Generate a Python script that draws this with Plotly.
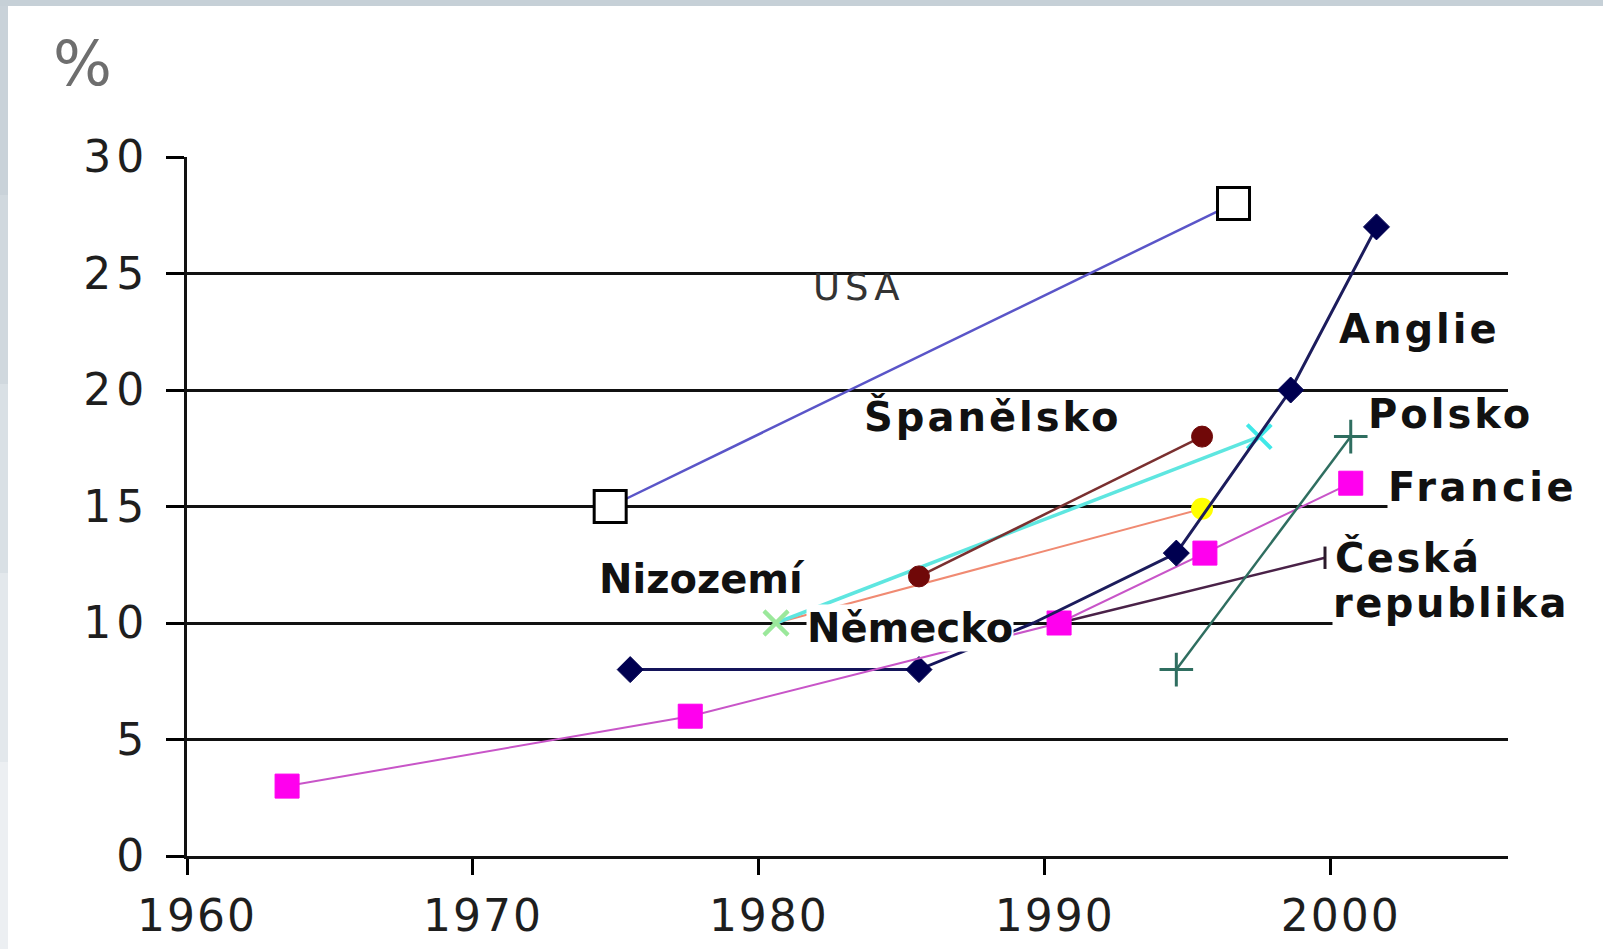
import plotly.graph_objects as go

# values (year, percent)
usa_years = [1974.8, 1996.6]
usa_vals = [15, 28]

nemecko_years = [1975.5, 1985.6, 1989.6]
nemecko_vals = [8, 8, 10]

anglie_years = [1989.6, 1994.6, 1998.6, 2001.6]
anglie_vals = [10, 13, 20, 27]

francie_years = [1963.5, 1977.6, 1990.5, 1995.6, 2000.7]
francie_vals = [3, 6, 10, 13, 16]

spanelsko_years = [1985.6, 1995.5]
spanelsko_vals = [12, 18]

nizozemi_years = [1980.6, 1997.5]
nizozemi_vals = [10, 18]

# unlabelled orange series (green start marker, yellow end marker)
orange_years = [1980.6, 1995.5]
orange_vals = [10, 14.9]

ceska_years = [1990.5, 1999.8]
ceska_vals = [10, 12.8]

polsko_years = [1994.6, 2000.7]
polsko_vals = [8, 18]

y_ticks = [0, 5, 10, 15, 20, 25, 30]
x_ticks = [1960, 1970, 1980, 1990, 2000]

FONT = "DejaVu Sans"
W, H = 1603, 949
M = dict(l=187, r=95, t=157, b=93)

fig = go.Figure()


def add_series(xs, ys, line_color, width, symbol, size, color, line=None):
    fig.add_trace(go.Scatter(
        x=xs, y=ys, mode="lines+markers",
        line=dict(color=line_color, width=width),
        marker=dict(symbol=symbol, size=size, color=color, opacity=1,
                    line=line or dict(color=color, width=1)),
        showlegend=False, hoverinfo="x+y",
    ))


add_series(usa_years, usa_vals, "#5a55c8", 2.5, "square", 32, "white",
           dict(color="black", width=3))
add_series(orange_years, orange_vals, "#f08a72", 2, ["x-thin", "circle"], [24, 22],
           ["#9be89b", "#ffff00"], dict(color=["#9be89b", "#ffff00"], width=[4, 0]))
add_series(nizozemi_years, nizozemi_vals, "#5ee6e0", 3.5, ["x-thin", "x-thin"], 24,
           "#40e8e8", dict(color=["#9be89b", "#40e8e8"], width=4))
add_series(spanelsko_years, spanelsko_vals, "#7a3030", 2.5, "circle", 21, "#700808")
add_series(nemecko_years, nemecko_vals, "#14145a", 3, "diamond", [20, 20, 0], "#000050")
add_series(ceska_years, ceska_vals, "#4a2248", 2.5, "line-ns", [0, 16], "#3a1a3a",
           dict(color="#2a1a2a", width=3))
add_series(francie_years, francie_vals, "#c855c8", 2, "square", 24, "#ff00ee")
add_series(anglie_years, anglie_vals, "#1c1c5c", 3, "diamond", [0, 20, 20, 20], "#000050")
add_series(polsko_years, polsko_vals, "#2f6e60", 2.5, "cross-thin", 24, "#2f6e60",
           dict(color="#2f6e60", width=3))

# country labels: text, year, value, bold, white box, anchor, letter spacing
labels = [
    ("USA", 1983.5, 24.4, False, False, "center", 5),
    ("Anglie", 2003.1, 22.6, True, False, "center", 3),
    ("Španělsko", 1988.2, 18.85, True, False, "center", 3),
    ("Polsko", 2004.2, 18.95, True, False, "center", 3),
    ("Francie", 2005.3, 15.85, True, True, "center", 3.5),
    ("Česká", 2000.1, 12.8, True, True, "left", 2.5),
    ("republika", 2000.05, 10.85, True, True, "left", 2.5),
    ("Nizozemí", 1978.0, 11.9, True, False, "center", 0),
    ("Německo", 1985.3, 9.8, True, True, "center", 0),
]
for text, x, y, bold, box, anchor, spacing in labels:
    fig.add_annotation(
        x=x, y=y, showarrow=False, xanchor=anchor, yanchor="middle",
        text=f'<span style="letter-spacing:{spacing}px">{text}</span>',
        font=dict(family=FONT, size=40 if bold else 37,
                  color="#111" if bold else "#333",
                  weight="bold" if bold else "normal"),
        bgcolor="white" if box else "rgba(0,0,0,0)", borderpad=0,
    )

pw = W - M["l"] - M["r"]
ph = H - M["t"] - M["b"]
fig.add_annotation(
    xref="paper", yref="paper", x=(83 - M["l"]) / pw, y=(H - M["b"] - 64) / ph,
    text="%", showarrow=False, xanchor="center", yanchor="middle",
    font=dict(family=FONT, size=62, color="#6e6e6e"),
)


# grey frame at the top and left edge of the picture
def px_rect(x0, y0, x1, y1, color):
    fig.add_shape(
        type="rect", xref="paper", yref="paper", layer="above",
        x0=(x0 - M["l"]) / pw, x1=(x1 - M["l"]) / pw,
        y0=(H - M["b"] - y0) / ph, y1=(H - M["b"] - y1) / ph,
        fillcolor=color, line=dict(width=0),
    )


px_rect(0, 0, W, 6, "#c6d0d7")
for i, c in enumerate(["#c9d2d9", "#d0d8de", "#d9e0e5", "#e3e8ec", "#eceff2"]):
    px_rect(0, 6 + i * 189, 8, 6 + (i + 1) * 189, c)


def spaced(values, px):
    return [f'<span style="letter-spacing:{px}px">{v}</span>' for v in values]


fig.update_layout(
    width=W, height=H, margin=M,
    paper_bgcolor="white", plot_bgcolor="white",
    xaxis=dict(
        range=[1960, 2006.2], tickvals=x_ticks, ticktext=spaced(x_ticks, 2),
        ticks="outside", ticklen=16, automargin=False,
        tickwidth=2.5, tickcolor="black", showline=True, linewidth=3,
        linecolor="#111", showgrid=False, zeroline=False,
        tickfont=dict(family=FONT, size=44, color="#1e1e1e"),
        ticklabelstandoff=3, ticklabelshift=10,
    ),
    yaxis=dict(
        range=[0, 30], tickvals=y_ticks, ticktext=spaced(y_ticks, 5),
        ticks="outside", ticklen=18, automargin=False,
        tickwidth=3, tickcolor="black", showline=True, linewidth=3,
        linecolor="#111", showgrid=True, gridcolor="#111", gridwidth=3,
        zeroline=False, tickfont=dict(family=FONT, size=44, color="#1e1e1e"),
        ticklabelstandoff=8,
    ),
)

fig.write_html("out.html", config={"displayModeBar": False},
               post_script="document.body.style.margin='0';")
